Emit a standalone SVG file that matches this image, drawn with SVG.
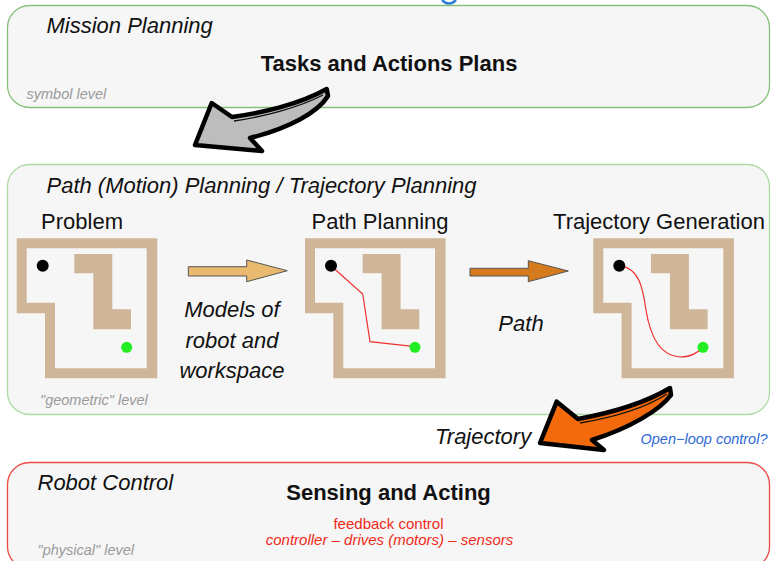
<svg xmlns="http://www.w3.org/2000/svg" xmlns:xlink="http://www.w3.org/1999/xlink" width="772" height="561" viewBox="0 0 772 561">
<style>
text{font-family:"Liberation Sans",Arial,Helvetica,sans-serif;fill:#111}
.it{font-style:italic;font-size:22px}
.hd{font-size:22px}
.bd{font-weight:bold;font-size:22px}
.lvl{font-style:italic;font-size:14.5px;fill:#9a9a9a}
.box{fill:#f6f6f6;stroke-width:1.3}
.wall{fill:#cfb699;fill-rule:evenodd}
.big{stroke:#000;stroke-width:4.5;stroke-linejoin:round}
.hl{fill:none;stroke:#111;stroke-width:1.4}
.red{fill:#f02a1a;font-size:15px}
</style>
<defs>
<g id="maze">
<path class="wall" d="M16.7,238.3H157.3V378.3H45V313.3H16.7Z M26.7,248.3H146.7V368.3H55V302.7H26.7Z"/>
<path class="wall" d="M74.3,254H112.3V309.3H131V329.3H93.3V273.3H74.3Z"/>
</g>
</defs>
<path d="M442,0 Q449,7 456,0" fill="none" stroke="#2f7fd8" stroke-width="2.5"/>
<g id="mission">
<rect class="box" x="7.5" y="5.5" width="762" height="102" rx="22" stroke="#86c07a"/>
<text class="it" x="46.5" y="33">Mission Planning</text>
<text class="bd" x="389" y="71" text-anchor="middle">Tasks and Actions Plans</text>
<text class="lvl" x="26.5" y="99">symbol level</text>
</g>
<g id="pathplanning">
<rect class="box" x="7.5" y="164.5" width="762" height="250" rx="22" stroke="#aedaa6"/>
<text class="it" x="46.5" y="193">Path (Motion) Planning / Trajectory Planning</text>
<text class="lvl" x="40" y="405">"geometric" level</text>
</g>
<g id="problem">
<text class="hd" x="82" y="228.5" text-anchor="middle">Problem</text>
<use xlink:href="#maze"/>
<circle cx="42.7" cy="265.7" r="6" fill="#000"/>
<circle cx="126.7" cy="347.3" r="5.5" fill="#22ee22"/>
</g>
<g id="pathplan">
<text class="hd" x="380" y="228.5" text-anchor="middle">Path Planning</text>
<use xlink:href="#maze" transform="translate(288.3,0)"/>
<polyline points="331,265.7 362.7,294 370,341.7 415,346.7" fill="none" stroke="#f03030" stroke-width="1.2"/>
<circle cx="331" cy="265.7" r="6" fill="#000"/>
<circle cx="415" cy="347.3" r="5.5" fill="#22ee22"/>
</g>
<g id="trajgen">
<text class="hd" x="659" y="228.5" text-anchor="middle">Trajectory Generation</text>
<use xlink:href="#maze" transform="translate(576.6,0)"/>
<path d="M619.3,265.7 C640,268 643,290 646,310 C650,335 660,356 680,357 C692,357 698,352 703,347" fill="none" stroke="#f03030" stroke-width="1.2"/>
<circle cx="619.3" cy="265.7" r="6" fill="#000"/>
<circle cx="703" cy="347.3" r="5.5" fill="#22ee22"/>
</g>
<g id="robotcontrol">
<rect class="box" x="7.5" y="462.5" width="762" height="106" rx="22" stroke="#e84a44"/>
<text class="it" x="37.5" y="490">Robot Control</text>
<text class="bd" x="388.5" y="499.5" text-anchor="middle">Sensing and Acting</text>
<text class="red" x="388.5" y="528.5" text-anchor="middle">feedback control</text>
<text class="red" x="389.5" y="545" text-anchor="middle" font-style="italic">controller – drives (motors) – sensors</text>
<text class="lvl" x="37.5" y="555">"physical" level</text>
</g>
<g id="connectors">
<path d="M188.3,266.7H246.7V260L287.3,270.7L246.7,281.7V276H188.3Z" fill="#e8b96e" stroke="#555" stroke-width="1"/>
<path d="M470,268.3H528.3V260.7L568.3,271L528.3,281.7V276H470Z" fill="#d67a1e" stroke="#555" stroke-width="1"/>
<path class="big" fill="#bdbdbd" d="M195,145 L211.7,103 L232,117 C262,113 300,104 326.7,89 L328,96 C318,112 290,128 250,138 L262,151 Z"/>
<path class="hl" d="M234,121 C262,117 298,108 323,95"/>
<path class="big" fill="#f26a0b" d="M540,443 L556.7,401.7 L578,419 C605,414 640,406 670,388 L671,395 C660,410 630,428 592,440 L604,450 Z"/>
<path class="hl" d="M580,423 C610,418 642,410 667,394"/>
<text class="it" x="435" y="443.5">Trajectory</text>
<text class="it" x="521" y="331" text-anchor="middle">Path</text>
<text class="it" x="232" y="317" text-anchor="middle">Models of</text>
<text class="it" x="232" y="347.5" text-anchor="middle">robot and</text>
<text class="it" x="232" y="378" text-anchor="middle">workspace</text>
<text class="lvl" x="640.5" y="444" style="fill:#2f6ad6">Open−loop control?</text>
</g>
</svg>
